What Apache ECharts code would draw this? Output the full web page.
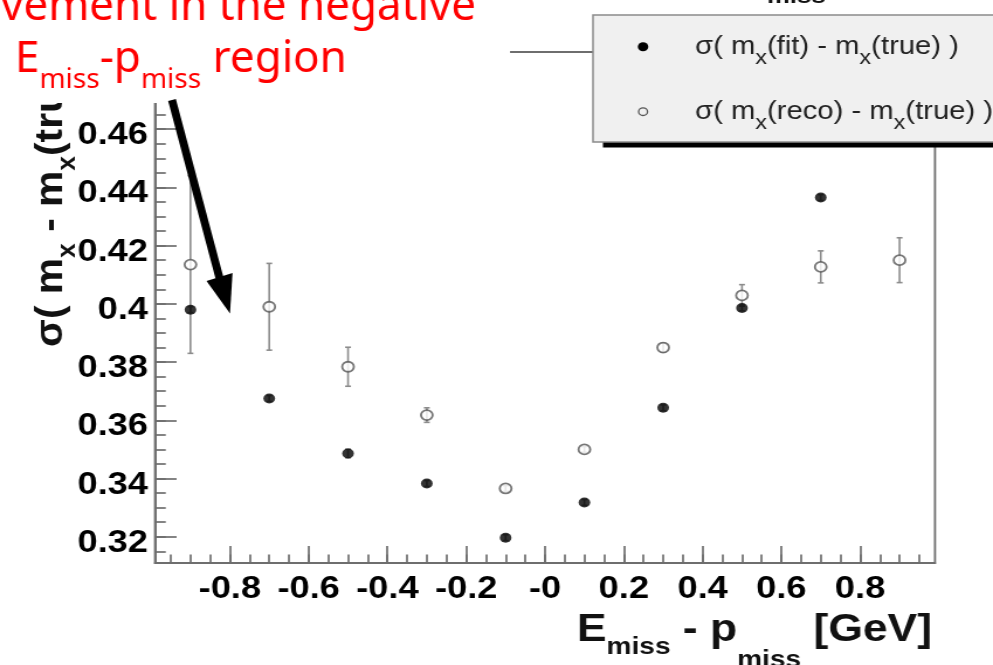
<!DOCTYPE html>
<html>
<head>
<meta charset="utf-8">
<script src="https://cdn.jsdelivr.net/npm/echarts@6/dist/echarts.min.js"></script>
<style>
  html, body { margin: 0; padding: 0; background: #fff; overflow: hidden; }
  /* the original plot is stretched sideways, so draw narrower and stretch */
  #chart { width: 849px; height: 665px; transform: scaleX(1.16961); transform-origin: 0 0; }
</style>
</head>
<body>
<div id="chart"></div>
<script>
// values
var xBins = [-0.9, -0.7, -0.5, -0.3, -0.1, 0.1, 0.3, 0.5, 0.7, 0.9];
var sigmaFit = [0.398, 0.3675, 0.3486, 0.3383, 0.3197, 0.3318, 0.3643, 0.3986, 0.4365, null];
var sigmaFitErr = [0.001, 0.001, 0.0015, 0.001, 0.001, 0.001, 0.001, 0.001, 0.001, null];
var sigmaReco = [0.4135, 0.399, 0.3784, 0.3618, 0.3366, 0.350, 0.385, 0.4029, 0.4127, 0.415];
var sigmaRecoErr = [0.0305, 0.0149, 0.0067, 0.0025, 0.001, 0.001, 0.0015, 0.0037, 0.0055, 0.0077];

var xTickValues = [-0.8, -0.6, -0.4, -0.2, 0, 0.2, 0.4, 0.6, 0.8];
var xTickLabels = ['-0.8', '-0.6', '-0.4', '-0.2', '-0', '0.2', '0.4', '0.6', '0.8'];
var yTickValues = [0.32, 0.34, 0.36, 0.38, 0.40, 0.42, 0.44, 0.46, 0.48];
var yTickLabels = ['0.32', '0.34', '0.36', '0.38', '0.4', '0.42', '0.44', '0.46', '0.48'];

var legendLabels = {
    fit: '{n|σ( m}{s|x}{n|(fit) - m}{s|x}{n|(true) )}',
    reco: '{n|σ( m}{s|x}{n|(reco) - m}{s|x}{n|(true) )}'
};

var S = 993 / 849;
var font = "'Liberation Sans', Arial, sans-serif";
var redFont = "'Noto Sans', sans-serif";
var axisGray = '#6e6e6e';

// minor tick positions (every 0.05 on x, 0.005 on y)
var xMinor = [], yMinor = [];
for (var i = -19; i <= 19; i++) xMinor.push(i * 0.05);
for (var j = 63; j <= 97; j++) yMinor.push(j * 0.005);

function lookup(values, labels, wrap) {
    return function (v) {
        for (var k = 0; k < values.length; k++) {
            if (Math.abs(values[k] - v) < 1e-6) return wrap ? '{v|' + labels[k] + '}' : labels[k];
        }
        return '';
    };
}

function points(vals) {
    var out = [];
    for (var k = 0; k < xBins.length; k++) {
        if (vals[k] != null) out.push([xBins[k], vals[k]]);
    }
    return out;
}

function errorBars(name, vals, errs) {
    var data = [];
    for (var k = 0; k < xBins.length; k++) {
        if (vals[k] != null) data.push([xBins[k], vals[k], errs[k]]);
    }
    return {
        type: 'custom',
        name: name,
        z: 1,
        silent: true,
        encode: { x: 0, y: 1 },
        renderItem: function (params, api) {
            var x = api.value(0), y = api.value(1), e = api.value(2);
            var hi = api.coord([x, y + e]);
            var lo = api.coord([x, y - e]);
            var c = 2.5;
            var st = { stroke: '#8c8c8c', lineWidth: 1.6 };
            return {
                type: 'group',
                children: [
                    { type: 'line', shape: { x1: hi[0], y1: hi[1], x2: lo[0], y2: lo[1] }, style: st },
                    { type: 'line', shape: { x1: hi[0] - c, y1: hi[1], x2: hi[0] + c, y2: hi[1] }, style: st },
                    { type: 'line', shape: { x1: lo[0] - c, y1: lo[1], x2: lo[0] + c, y2: lo[1] }, style: st }
                ]
            };
        },
        data: data
    };
}

function legendRich() {
    return {
        n: { fontSize: 25, fontFamily: font, fill: '#222' },
        s: { fontSize: 20, fontFamily: font, fill: '#222', padding: [23, 0, 0, 0] }
    };
}

var chart = echarts.init(document.getElementById('chart'));

var tickLabelStyle = { color: '#000', fontSize: 31, fontWeight: 'bold', fontFamily: font };

chart.setOption({
    animation: false,
    grid: {
        left: 155 / S,
        right: 849 - 935 / S,
        top: 52,
        bottom: 102,
        show: true,
        borderColor: axisGray,
        borderWidth: 1.8
    },
    xAxis: [{
        type: 'value',
        min: -0.99,
        max: 0.99,
        position: 'bottom',
        axisLine: { show: true, onZero: false, lineStyle: { color: axisGray, width: 1.8 } },
        axisTick: { show: true, inside: true, length: 17, customValues: xTickValues, lineStyle: { color: axisGray, width: 1.7 } },
        axisLabel: Object.assign({ customValues: xTickValues, margin: 11, formatter: lookup(xTickValues, xTickLabels) }, tickLabelStyle),
        splitLine: { show: false }
    }, {
        type: 'value',
        min: -0.99,
        max: 0.99,
        position: 'bottom',
        axisLine: { show: false, onZero: false },
        axisTick: { show: true, inside: true, length: 8.5, customValues: xMinor, lineStyle: { color: axisGray, width: 1.7 } },
        axisLabel: { show: false },
        splitLine: { show: false }
    }],
    yAxis: [{
        type: 'value',
        min: 0.311,
        max: 0.4865,
        position: 'left',
        axisLine: { show: true, onZero: false, lineStyle: { color: axisGray, width: 1.8 } },
        axisTick: { show: true, inside: true, length: 18.5, customValues: yTickValues, lineStyle: { color: axisGray, width: 1.7 } },
        axisLabel: Object.assign({
            customValues: yTickValues,
            margin: 6,
            formatter: lookup(yTickValues, yTickLabels, true),
            rich: { v: { fontSize: 31, fontWeight: 'bold', fontFamily: font, color: '#000', padding: [13, 0, 0, 0] } }
        }, tickLabelStyle),
        splitLine: { show: false }
    }, {
        type: 'value',
        min: 0.311,
        max: 0.4865,
        position: 'left',
        axisLine: { show: false, onZero: false },
        axisTick: { show: true, inside: true, length: 9.2, customValues: yMinor, lineStyle: { color: axisGray, width: 1.7 } },
        axisLabel: { show: false },
        splitLine: { show: false }
    }],
    series: [
        errorBars('fitErr', sigmaFit, sigmaFitErr),
        errorBars('recoErr', sigmaReco, sigmaRecoErr),
        {
            name: 'fit',
            type: 'scatter',
            z: 3,
            symbol: 'circle',
            symbolSize: 10,
            itemStyle: { color: '#000' },
            data: points(sigmaFit)
        },
        {
            name: 'reco',
            type: 'scatter',
            z: 3,
            symbol: 'circle',
            symbolSize: 10,
            itemStyle: { color: '#fff', borderColor: '#555', borderWidth: 1.8 },
            data: points(sigmaReco)
        }
    ],
    graphic: [
        // y axis title, reads bottom to top
        {
            type: 'text', x: 43.4, y: 347, rotation: Math.PI / 2, scaleX: 1.2, z: 5,
            style: {
                text: '{n|σ( m}{s|x}{n| - m}{s|x}{n|(true) )}',
                align: 'left', verticalAlign: 'middle',
                rich: {
                    n: { fontSize: 34, fontWeight: 'bold', fontFamily: font, fill: '#111' },
                    s: { fontSize: 22, fontWeight: 'bold', fontFamily: font, fill: '#111', padding: [29, 0, 0, 0] }
                }
            }
        },
        // x axis title
        {
            type: 'text', x: 932 / S, y: 630.5, z: 5,
            style: {
                text: '{n|E}{s|miss}{n| - p}{t|miss}{n| [GeV]}',
                align: 'right', verticalAlign: 'middle',
                rich: {
                    n: { fontSize: 38, fontWeight: 'bold', fontFamily: font, fill: '#111' },
                    s: { fontSize: 24, fontWeight: 'bold', fontFamily: font, fill: '#111', padding: [33, 0, 0, 0] },
                    t: { fontSize: 24, fontWeight: 'bold', fontFamily: font, fill: '#111', padding: [60, 0, 0, 0] }
                }
            }
        },
        // bit of the title cut by the top edge
        {
            type: 'text', x: 767 / S, y: -2.8, z: 5,
            style: { text: 'miss', fontSize: 22, fontWeight: 'bold', fontFamily: font, fill: '#111', align: 'left', verticalAlign: 'middle' }
        },
        // legend box with its hard shadow
        { type: 'rect', z: 20, shape: { x: 515.5, y: 20.5, width: 400, height: 127 }, style: { fill: '#000' } },
        { type: 'rect', z: 21, shape: { x: 507, y: 15, width: 400, height: 127 }, style: { fill: '#f0f0f0', stroke: '#8a8a8a', lineWidth: 1.5 } },
        { type: 'circle', z: 22, shape: { cx: 549.8, cy: 46.7, r: 4.5 }, style: { fill: '#000' } },
        { type: 'circle', z: 22, shape: { cx: 549.8, cy: 111.7, r: 3.8 }, style: { fill: '#f0f0f0', stroke: '#555', lineWidth: 1.3 } },
        {
            type: 'text', z: 22, x: 594.2, y: 46.7,
            style: { text: legendLabels.fit, align: 'left', verticalAlign: 'middle', rich: legendRich() }
        },
        {
            type: 'text', z: 22, x: 594.2, y: 111.7,
            style: { text: legendLabels.reco, align: 'left', verticalAlign: 'middle', rich: legendRich() }
        },
        // annotation, not stretched
        {
            type: 'group', scaleX: 1 / S, z: 100,
            children: [
                { type: 'rect', z: 100, shape: { x: 0, y: 0, width: 510, height: 103 }, style: { fill: '#fff' } },
                {
                    type: 'text', x: 1, y: 7.5, z: 101,
                    style: { text: 'vement in the negative', fontSize: 44, fontFamily: redFont, fill: '#ff0000', align: 'left', verticalAlign: 'middle' }
                },
                {
                    type: 'text', x: 15, y: 59.5, z: 101,
                    style: {
                        text: '{m|E}{s|miss}{m|-p}{s|miss}{m| region}',
                        align: 'left', verticalAlign: 'middle',
                        rich: {
                            m: { fontSize: 44, fontFamily: redFont, fill: '#ff0000' },
                            s: { fontSize: 28, fontFamily: redFont, fill: '#ff0000', padding: [41, 0, 0, 0] }
                        }
                    }
                },
                {
                    type: 'line', z: 102,
                    shape: { x1: 172, y1: 100, x2: 219.5, y2: 278 },
                    style: { stroke: '#000', lineWidth: 8 }
                },
                {
                    type: 'polygon', z: 102,
                    shape: { points: [[206.5, 281], [232.5, 273], [230, 313.5]] },
                    style: { fill: '#000' }
                }
            ]
        }
    ]
});
</script>
</body>
</html>
